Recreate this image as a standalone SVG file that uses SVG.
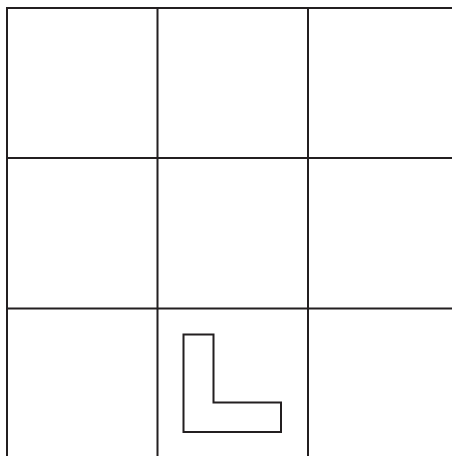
<svg xmlns="http://www.w3.org/2000/svg" width="452" height="456" viewBox="0 0 452 456">
<style>.g{stroke:#231f20;stroke-width:2;fill:none}</style>
<rect width="452" height="456" fill="#fff"/>
<g id="grid" class="g">
<line x1="6" y1="8" x2="452" y2="8"/>
<line x1="6" y1="158" x2="452" y2="158"/>
<line x1="6" y1="308.5" x2="452" y2="308.5"/>
<line x1="7" y1="7" x2="7" y2="456"/>
<line x1="157.5" y1="7" x2="157.5" y2="456"/>
<line x1="308" y1="7" x2="308" y2="456"/>
</g>
<g id="lshape">
<polygon class="g" points="183.5,334.5 213.5,334.5 213.5,402.5 281,402.5 281,432 183.5,432"/>
</g>
</svg>
